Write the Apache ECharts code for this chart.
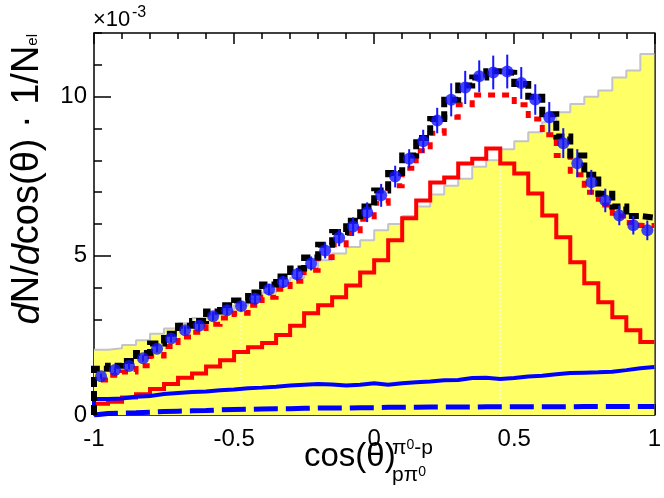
<!DOCTYPE html>
<html>
<head>
<meta charset="utf-8">
<script src="https://cdn.jsdelivr.net/npm/echarts@6/dist/echarts.min.js"></script>
<style>
  html, body { margin: 0; padding: 0; background: #fff; }
  #chart { width: 664px; height: 498px; }
</style>
</head>
<body>
<div id="chart"></div>
<script>
// 40 bins of width 0.05 on cos(theta) in [-1, 1]
const nBins = 40;
const binWidth = 0.05;
const binLo = Array.from({ length: nBins }, (_, i) => +(-1 + i * binWidth).toFixed(3));
const binCenter = binLo.map(x => +(x + binWidth / 2).toFixed(3));

// measured distribution (x 1e-3) with statistical errors
const dataVals = [1.22, 1.41, 1.54, 1.78, 2.08, 2.40, 2.66, 2.80, 3.10, 3.29,
                  3.42, 3.65, 3.94, 4.18, 4.42, 4.76, 5.17, 5.57, 5.92, 6.37,
                  6.90, 7.49, 8.05, 8.60, 9.25, 9.90, 10.29, 10.64, 10.76, 10.79,
                  10.43, 9.91, 9.35, 8.54, 7.91, 7.31, 6.74, 6.27, 5.96, 5.80];
const dataErr  = [0.08, 0.09, 0.10, 0.10, 0.11, 0.12, 0.13, 0.13, 0.14, 0.15,
                  0.16, 0.17, 0.18, 0.19, 0.20, 0.22, 0.25, 0.27, 0.29, 0.31,
                  0.36, 0.34, 0.30, 0.36, 0.40, 0.52, 0.52, 0.50, 0.53, 0.53,
                  0.50, 0.48, 0.48, 0.47, 0.44, 0.39, 0.37, 0.31, 0.29, 0.31];

// simulation totals
const simTotal = [1.45, 1.55, 1.70, 1.95, 2.25, 2.55, 2.80, 2.95, 3.25, 3.45,
                  3.60, 3.85, 4.10, 4.35, 4.60, 4.95, 5.35, 5.75, 6.10, 6.55,
                  7.05, 7.60, 8.15, 8.70, 9.30, 9.90, 10.35, 10.60, 10.80, 10.75,
                  10.40, 10.00, 9.45, 8.75, 8.15, 7.55, 6.95, 6.55, 6.25, 6.20];
const simAlt   = [1.10, 1.25, 1.35, 1.55, 1.85, 2.15, 2.45, 2.60, 2.85, 3.05,
                  3.20, 3.45, 3.70, 3.95, 4.20, 4.55, 4.95, 5.35, 5.70, 6.15,
                  6.65, 7.20, 7.75, 8.30, 8.85, 9.35, 9.75, 10.05, 10.05, 10.05,
                  9.75, 9.30, 8.80, 8.15, 7.55, 7.00, 6.60, 6.25, 6.05, 5.95];

// individual contributions
const compRed  = [0.35, 0.42, 0.55, 0.65, 0.82, 0.97, 1.17, 1.30, 1.52, 1.72,
                  1.98, 2.13, 2.26, 2.51, 2.80, 3.20, 3.45, 3.70, 4.07, 4.48,
                  4.86, 5.49, 6.18, 6.74, 7.30, 7.46, 7.90, 8.05, 8.37, 7.90,
                  7.59, 6.96, 6.27, 5.58, 4.80, 4.14, 3.54, 3.07, 2.66, 2.29];
const compBlue = [0.50, 0.52, 0.57, 0.60, 0.66, 0.69, 0.72, 0.74, 0.78, 0.80,
                  0.84, 0.86, 0.89, 0.93, 0.95, 0.97, 0.96, 0.93, 0.95, 1.00,
                  0.95, 1.00, 1.03, 1.05, 1.09, 1.10, 1.16, 1.17, 1.13, 1.16,
                  1.21, 1.23, 1.28, 1.32, 1.33, 1.34, 1.36, 1.41, 1.47, 1.51];
const compBlueDash = [0.05, 0.06, 0.07, 0.09, 0.11, 0.12, 0.13, 0.14, 0.16, 0.17,
                      0.18, 0.19, 0.20, 0.20, 0.21, 0.22, 0.22, 0.22, 0.23, 0.23,
                      0.24, 0.24, 0.24, 0.25, 0.25, 0.25, 0.25, 0.26, 0.26, 0.26,
                      0.26, 0.26, 0.26, 0.26, 0.27, 0.27, 0.27, 0.27, 0.27, 0.27];

// shaded reference histogram
const shadeVals = [2.05, 2.10, 2.20, 2.35, 2.55, 2.72, 2.88, 3.05, 3.15, 3.30,
                   3.45, 3.65, 3.85, 4.05, 4.30, 4.60, 4.86, 5.07, 5.28, 5.49,
                   5.80, 6.00, 6.25, 6.55, 6.93, 7.20, 7.42, 7.80, 8.00, 8.35,
                   8.60, 8.88, 9.20, 9.51, 9.77, 10.00, 10.19, 10.60, 10.82, 11.34];
// thin unfilled seams in the shaded area
const seamX = [-0.475, 0.45];

const xTickValues = [-1, -0.5, 0, 0.5, 1];
const xTickLabels = ['-1', '-0.5', '0', '0.5', '1'];
const yTickValues = [0, 5, 10];
const yTickLabels = ['0', '5', '10'];

const FONT = 'Liberation Sans, Arial, Helvetica, sans-serif';

function stepData(vals, fromZero) {
  const pts = binLo.map((x, i) => [x, vals[i]]);
  pts.push([1, vals[vals.length - 1]]);
  if (fromZero) pts.unshift([-1, 0]);
  return pts;
}
function shadeAt(x) {
  const i = Math.min(nBins - 1, Math.max(0, Math.floor((x + 1) / binWidth + 1e-6)));
  return Math.min(shadeVals[i], i > 0 ? shadeVals[i - 1] : shadeVals[i]);
}

function histLine(name, vals, color, width, type, z) {
  return {
    name, type: 'line', step: 'end', data: stepData(vals, true),
    showSymbol: false, symbol: 'none', z,
    lineStyle: { color, width, type, cap: 'butt', join: 'miter' },
    emphasis: { disabled: true }, silent: true
  };
}

const axisLineStyle = { color: '#000', width: 1.5 };

const option = {
  animation: false,
  backgroundColor: '#fff',
  grid: { left: 94, right: 4, top: 33, bottom: 83, containLabel: false },
  xAxis: [
    {
      type: 'value', position: 'bottom', min: -1, max: 1, interval: 0.5,
      axisLine: { show: true, onZero: false, lineStyle: axisLineStyle },
      axisTick: { show: true, inside: true, length: 11, lineStyle: { color: '#000', width: 1.5 } },
      minorTick: { show: true, splitNumber: 5, length: 6, lineStyle: { color: '#000', width: 1.5 } },
      splitLine: { show: false },
      axisLabel: {
        show: true, margin: 12, fontSize: 24, color: '#000', fontFamily: FONT,
        formatter: v => { const i = xTickValues.findIndex(t => Math.abs(t - v) < 1e-9); return i >= 0 ? xTickLabels[i] : ''; }
      }
    },
    {
      type: 'value', position: 'top', min: -1, max: 1, interval: 0.5,
      axisLine: { show: true, onZero: false, lineStyle: axisLineStyle },
      axisTick: { show: true, inside: true, length: 11, lineStyle: { color: '#000', width: 1.5 } },
      minorTick: { show: true, splitNumber: 5, length: 6, lineStyle: { color: '#000', width: 1.5 } },
      splitLine: { show: false },
      axisLabel: { show: false }
    }
  ],
  yAxis: [
    {
      type: 'value', position: 'left', min: 0, max: 12, interval: 5,
      axisLine: { show: true, onZero: false, lineStyle: axisLineStyle },
      axisTick: { show: true, inside: true, length: 17, lineStyle: { color: '#000', width: 1.5 } },
      splitLine: { show: false },
      axisLabel: {
        show: true, margin: 7, fontSize: 24, color: '#000', fontFamily: FONT, showMaxLabel: false,
        formatter: v => { const i = yTickValues.indexOf(v); return i >= 0 ? yTickLabels[i] : ''; }
      }
    },
    {
      type: 'value', position: 'left', min: 0, max: 12, interval: 1,
      axisLine: { show: false, onZero: false },
      axisTick: { show: true, inside: true, length: 8, lineStyle: { color: '#000', width: 1.5 } },
      splitLine: { show: false },
      axisLabel: { show: false }
    },
    {
      type: 'value', position: 'right', min: 0, max: 12,
      axisLine: { show: true, onZero: false, lineStyle: axisLineStyle },
      axisTick: { show: false }, splitLine: { show: false }, axisLabel: { show: false }
    }
  ],
  series: [
    {
      name: 'shade', type: 'line', step: 'end', data: stepData(shadeVals, false),
      showSymbol: false, symbol: 'none', z: 1, silent: true,
      lineStyle: { color: '#c4c4c4', width: 2 },
      areaStyle: { color: '#ffff66', opacity: 1 }
    },
    {
      name: 'seams', type: 'custom', z: 1.5, silent: true,
      data: seamX.map(x => [x, shadeAt(x)]),
      renderItem: (params, api) => {
        const p0 = api.coord([api.value(0), 0]);
        const p1 = api.coord([api.value(0), api.value(1)]);
        return { type: 'line', shape: { x1: p0[0], y1: p0[1], x2: p1[0], y2: p1[1] },
                 style: { stroke: '#ffffff', lineWidth: 1, lineDash: [2, 2] } };
      }
    },
    histLine('component A', compRed, '#ff0000', 4, 'solid', 2),
    histLine('component B', compBlue, '#0000ff', 4, 'solid', 3),
    histLine('component C', compBlueDash, '#0000ff', 5, [24, 8], 3),
    histLine('simulation alt', simAlt, '#ff0000', 5, [7, 7], 4),
    histLine('simulation', simTotal, '#000000', 6, [10, 4], 5),
    {
      name: 'data errors', type: 'custom', z: 6, silent: true,
      data: binCenter.map((x, i) => [x, dataVals[i] - dataErr[i], dataVals[i] + dataErr[i]]),
      renderItem: (params, api) => {
        const p0 = api.coord([api.value(0), api.value(1)]);
        const p1 = api.coord([api.value(0), api.value(2)]);
        return { type: 'line', shape: { x1: p0[0], y1: p0[1], x2: p1[0], y2: p1[1] },
                 style: { stroke: '#1414ff', lineWidth: 2 } };
      }
    },
    {
      name: 'data', type: 'scatter', z: 7, silent: true,
      data: binCenter.map((x, i) => [x, dataVals[i]]),
      symbol: 'circle', symbolSize: 12,
      itemStyle: { color: '#1414ff' }
    }
  ],
  graphic: [
    {
      type: 'text', x: 93, y: 31, z: 10,
      style: { text: '×10', font: '22px "Liberation Sans", Arial, sans-serif',
               fontSize: 22, fill: '#000', align: 'left', verticalAlign: 'bottom' }
    },
    {
      type: 'text', x: 132, y: 21, z: 10,
      style: { text: '-3', font: '16px "Liberation Sans", Arial, sans-serif',
               fontSize: 16, fill: '#000', align: 'left', verticalAlign: 'bottom' }
    },
    {
      type: 'text', x: 28, y: 34, rotation: Math.PI / 2, z: 10,
      style: {
        text: '{i|d}N/{i|d}cos(θ) · 1/N{s|el}',
        align: 'right', verticalAlign: 'middle',
        fontSize: 38, fontFamily: FONT, fill: '#000',
        rich: {
          i: { fontSize: 38, fontStyle: 'italic', fontFamily: FONT, verticalAlign: 'bottom' },
          s: { fontSize: 15, fontFamily: FONT, verticalAlign: 'bottom', padding: [0, 0, 7, 0] }
        }
      }
    },
    {
      type: 'text', left: 304, top: 440, z: 10,
      style: { text: 'cos(θ)', fontSize: 33, fontFamily: FONT, fill: '#000' }
    },
    {
      type: 'text', left: 392, top: 438, z: 10,
      style: {
        text: '{a|π}{b|0}{a|-p}', fontFamily: FONT, fill: '#000',
        rich: {
          a: { fontSize: 21, fontFamily: FONT, verticalAlign: 'bottom' },
          b: { fontSize: 14, fontFamily: FONT, verticalAlign: 'top' }
        }
      }
    },
    {
      type: 'text', left: 392, top: 465, z: 10,
      style: {
        text: '{a|pπ}{b|0}', fontFamily: FONT, fill: '#000',
        rich: {
          a: { fontSize: 21, fontFamily: FONT, verticalAlign: 'bottom' },
          b: { fontSize: 14, fontFamily: FONT, verticalAlign: 'top' }
        }
      }
    }
  ]
};

const chart = echarts.init(document.getElementById('chart'), null, { renderer: 'canvas' });
chart.setOption(option);
</script>
</body>
</html>
